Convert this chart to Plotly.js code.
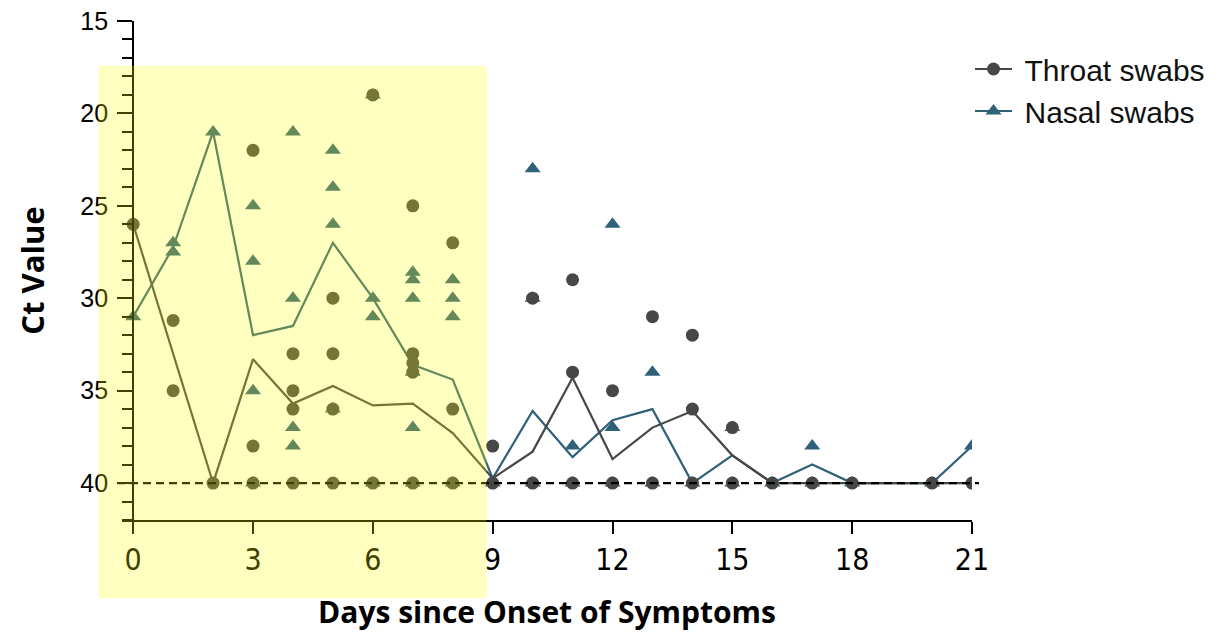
<!DOCTYPE html>
<html>
<head>
<meta charset="utf-8">
<script src="https://cdn.plot.ly/plotly-3.0.1.min.js"></script>
<style>html,body{margin:0;padding:0;background:#fff;}#chart{width:1218px;height:635px;}</style>
</head>
<body>
<div id="chart"></div>
<script>
// Individual Ct values, throat swabs
var throatDays = [0, 1,1, 2, 3,3,3, 4,4,4,4, 5,5,5,5, 6,6, 7,7,7,7,7, 8,8,8, 9,9, 10,10, 11,11,11, 12,12, 13,13, 14,14,14, 15,15, 16, 17, 18, 20, 21];
var throatCt   = [26, 31.2,35, 40, 22,38,40, 33,35,36,40, 30,33,36,40, 19,40, 25,33,33.5,34,40, 27,36,40, 38,40, 30,40, 29,34,40, 35,40, 31,40, 32,36,40, 37,40, 40, 40, 40, 40, 40];
// Individual Ct values, nasal swabs
var nasalDays = [0, 1,1, 2, 3,3,3,3, 4,4,4,4, 5,5,5,5, 6,6,6,6, 7,7,7,7,7,7, 8,8,8,8, 9, 10,10,10, 11,11, 12,12,12, 13,13, 14, 15,15, 16, 17,17, 18, 20, 21];
var nasalCt   = [31, 27,27.5, 21, 25,28,35,40, 21,30,37,38, 22,24,26,36, 19,30,31,40, 28.6,29,30,34,37,40, 29,30,31,40, 40, 23,30,40, 38,40, 26,37,40, 34,40, 40, 37,40, 40, 38,40, 40, 40, 38];
// Mean curves
var meanDays   = [0, 1, 2, 3, 4, 5, 6, 7, 8, 9, 10, 11, 12, 13, 14, 15, 16, 17, 18, 20, 21];
var throatMean = [26, 33, 40, 33.3, 35.7, 34.75, 35.8, 35.7, 37.3, 39.75, 38.3, 34.3, 38.7, 37.0, 36.1, 38.5, 40, 40, 40, 40, 40];
var nasalMean  = [31, 27.25, 21, 32, 31.5, 27, 30, 33.6, 34.4, 39.75, 36.1, 38.6, 36.6, 36, 40, 38.5, 40, 39, 40, 40, 38];
var xTicks = [0, 3, 6, 9, 12, 15, 18, 21];
var yTicks = [15, 20, 25, 30, 35, 40];
var seriesNames = ['Throat swabs', 'Nasal swabs'];
var detectionLimit = 40;

var cThroat = '#474747';
var cNasal = '#2f6279';

var traces = [
  {x: meanDays, y: nasalMean, mode: 'lines', line: {color: cNasal, width: 2.2}, showlegend: false, hoverinfo: 'skip'},
  {x: meanDays, y: throatMean, mode: 'lines', line: {color: cThroat, width: 2.2}, showlegend: false, hoverinfo: 'skip'},
  {x: nasalDays, y: nasalCt, mode: 'markers', marker: {symbol: 'triangle-up', size: 14, color: cNasal}, showlegend: false},
  {x: throatDays, y: throatCt, mode: 'markers', marker: {symbol: 'circle', size: 13, color: cThroat}, showlegend: false},
  {x: [null], y: [null], mode: 'lines+markers', name: '\u2005' + seriesNames[0], line: {color: cThroat, width: 2}, marker: {symbol: 'circle', size: 13, color: cThroat}},
  {x: [null], y: [null], mode: 'lines+markers', name: '\u2005' + seriesNames[1], line: {color: cNasal, width: 2}, marker: {symbol: 'triangle-up', size: 14, color: cNasal}}
];

var L = 122, R = 246, T = 21, B = 115;
var W = 1218 - L - R, H = 635 - T - B;
var xMin = -0.28, xMax = 21;
function px2paperX(p){ return (p - L) / W; }
function px2paperY(p){ return (635 - B - p) / H; }

var layout = {
  width: 1218, height: 635,
  margin: {l: L, r: R, t: T, b: B, autoexpand: false},
  paper_bgcolor: '#ffffff', plot_bgcolor: 'rgba(0,0,0,0)',
  showlegend: true,
  legend: {x: px2paperX(970), y: px2paperY(43), xanchor: 'left', yanchor: 'top',
           font: {family: 'Liberation Sans, Arial, sans-serif', size: 30, color: '#111'},
           bgcolor: 'rgba(0,0,0,0)', itemwidth: 37},
  xaxis: {
    range: [xMin, xMax], tickvals: xTicks, ticktext: xTicks.map(String),
    showgrid: false, zeroline: false, showline: true, linecolor: '#000', linewidth: 2,
    ticks: 'outside', ticklen: 12, tickwidth: 2, tickcolor: '#000',
    tickfont: {family: 'Liberation Sans Narrow, DejaVu Sans Condensed, sans-serif', size: 30, color: '#000'},
    title: {text: 'Days since Onset of Symptoms', standoff: 26,
            font: {family: 'Open Sans, sans-serif', size: 30, weight: 700, color: '#000'}}
  },
  yaxis: {
    range: [42, 15], tickvals: yTicks, ticktext: yTicks.map(String),
    anchor: 'free', position: (0 - xMin) / (xMax - xMin),
    showgrid: false, zeroline: false, showline: true, linecolor: '#000', linewidth: 2,
    ticks: 'outside', ticklen: 15, tickwidth: 2, tickcolor: '#000',
    minor: {dtick: 1, tick0: 15, ticks: 'outside', ticklen: 10, tickwidth: 2, tickcolor: '#000', showgrid: false},
    tickfont: {family: 'Liberation Sans, Arial, sans-serif', size: 25, color: '#000'},
    ticklabelstandoff: 4,
    title: {text: 'Ct Value', standoff: 26,
            font: {family: 'Open Sans, sans-serif', size: 31, weight: 700, color: '#000'}}
  },
  shapes: [
    {type: 'line', xref: 'paper', yref: 'y', x0: px2paperX(117), x1: px2paperX(979), y0: detectionLimit, y1: detectionLimit,
     line: {color: '#000', width: 2.2, dash: '8px,5px'}, layer: 'above'},
    {type: 'rect', xref: 'paper', yref: 'paper', x0: px2paperX(98.5), x1: px2paperX(486.5), y0: px2paperY(598), y1: px2paperY(65.7),
     fillcolor: 'rgba(255,255,0,0.25)', line: {width: 0}, layer: 'above'}
  ]
};

Plotly.newPlot('chart', traces, layout, {displayModeBar: false, staticPlot: true});
</script>
</body>
</html>
